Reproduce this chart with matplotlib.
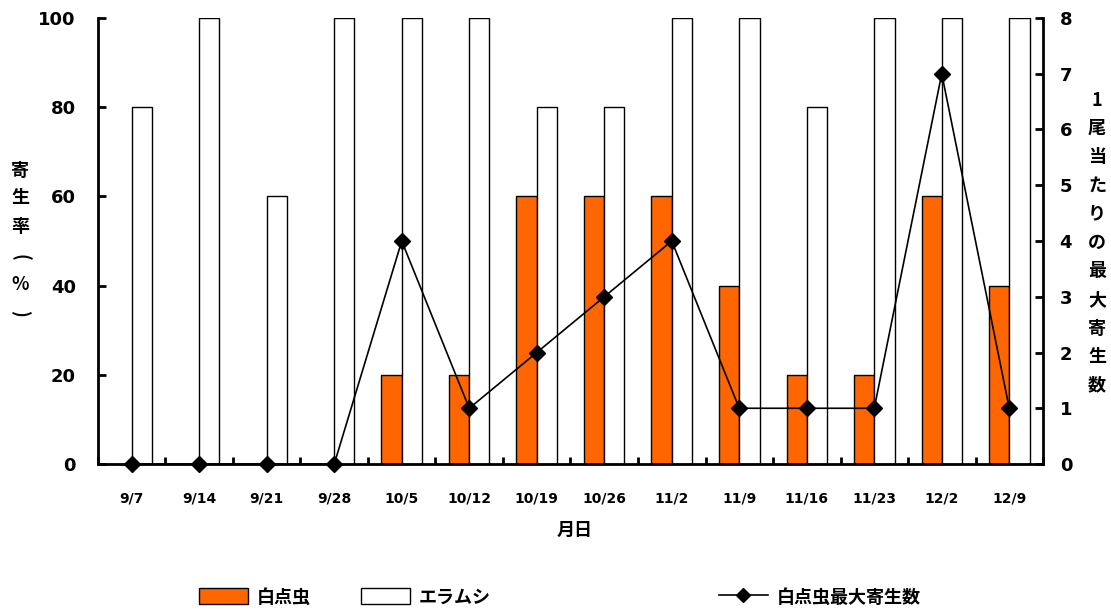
import numpy as np
import matplotlib
matplotlib.use("Agg")
import matplotlib.pyplot as plt
from matplotlib.patches import Patch
from matplotlib.lines import Line2D

plt.rcParams['font.family'] = ['Noto Sans CJK JP', 'DejaVu Sans']
plt.rcParams['font.weight'] = 'bold'
NUM_FONT = ['DejaVu Sans']

dates = ["9/7", "9/14", "9/21", "9/28", "10/5", "10/12", "10/19", "10/26",
         "11/2", "11/9", "11/16", "11/23", "12/2", "12/9"]
hakuten_rate = [0, 0, 0, 0, 20, 20, 60, 60, 60, 40, 20, 20, 60, 40]
eramushi_rate = [80, 100, 60, 100, 100, 100, 80, 80, 100, 100, 80, 100, 100, 100]
hakuten_max = [0, 0, 0, 0, 4, 1, 2, 3, 4, 1, 1, 1, 7, 1]

ORANGE = "#ff6600"
W, H = 1111, 612

fig = plt.figure(figsize=(W / 100, H / 100), dpi=100)
ax = fig.add_axes([0.0882, 0.2418, 0.8506, 0.7288])

x = np.arange(len(dates))
w = 0.3
ax.bar(x - w / 2, hakuten_rate, width=w, color=ORANGE, edgecolor="black", linewidth=1.0)
ax.bar(x + w / 2, eramushi_rate, width=w, color="white", edgecolor="black", linewidth=1.0)

ax.set_xlim(-0.5, len(dates) - 0.5)
ax.set_ylim(0, 100)
ax.set_yticks([0, 20, 40, 60, 80, 100])
ax.set_xticks(x)
ax.set_xticklabels(dates, fontsize=10, fontweight='bold', family=NUM_FONT)
ax.tick_params(axis='x', length=0, pad=20)
ax.set_xticks(np.arange(len(dates) + 1) - 0.5, minor=True)
ax.tick_params(axis='x', which='minor', direction='in', length=5, width=2)
ax.tick_params(axis='y', direction='in', length=6, width=2, labelsize=13, pad=16)
for lab in ax.get_yticklabels():
    lab.set_fontweight('bold')
    lab.set_family(NUM_FONT)
for side in ["top", "right"]:
    ax.spines[side].set_visible(False)
for side in ["left", "bottom"]:
    ax.spines[side].set_linewidth(2)

ax2 = ax.twinx()
ax2.plot(x, hakuten_max, color="black", linewidth=1.2, marker="D", markersize=8,
         markerfacecolor="black", clip_on=False)
ax2.set_ylim(0, 8)
ax2.set_yticks(range(0, 9))
ax2.tick_params(axis='y', direction='in', length=6, width=2, labelsize=13, pad=12)
for lab in ax2.get_yticklabels():
    lab.set_fontweight('bold')
    lab.set_family(NUM_FONT)
for side in ["top", "left", "bottom"]:
    ax2.spines[side].set_visible(False)
ax2.spines["right"].set_linewidth(2)


def stacked(chars, px, ys, rot=None):
    # one character per row, written top to bottom
    for i, (ch, py) in enumerate(zip(chars, ys)):
        r = rot[i] if rot else 0
        fig.text(px / W, 1 - py / H, ch, ha="center", va="center",
                 fontsize=13, fontweight='bold', rotation=r)


stacked(["寄", "生", "率", "(", "%", ")"], 20, [170, 198, 226, 257, 285, 313],
        rot=[0, 0, 0, -90, 0, -90])
right_chars = ["1"] + list("尾当たりの最大寄生数")
stacked(right_chars, 1097, [100 + 28.5 * i for i in range(len(right_chars))])

fig.text(575 / W, 1 - 530 / H, "月日", ha="center", va="center",
         fontsize=13, fontweight='bold')

# legend entries placed individually along the bottom
entries = [
    (Patch(facecolor=ORANGE, edgecolor="black"), "白点虫", 199),
    (Patch(facecolor="white", edgecolor="black"), "エラムシ", 361),
    (Line2D([], [], color="black", linewidth=1.2, marker="D", markersize=7), "白点虫最大寄生数", 719),
]
for handle, label, px in entries:
    fig.legend([handle], [label], loc="center left",
               bbox_to_anchor=(px / W, 1 - 597 / H), frameon=False,
               handlelength=2.7, handleheight=1.0, handletextpad=0.5,
               prop={'size': 13, 'weight': 'bold'}, borderpad=0, borderaxespad=0)

fig.savefig("out.png", dpi=100)
